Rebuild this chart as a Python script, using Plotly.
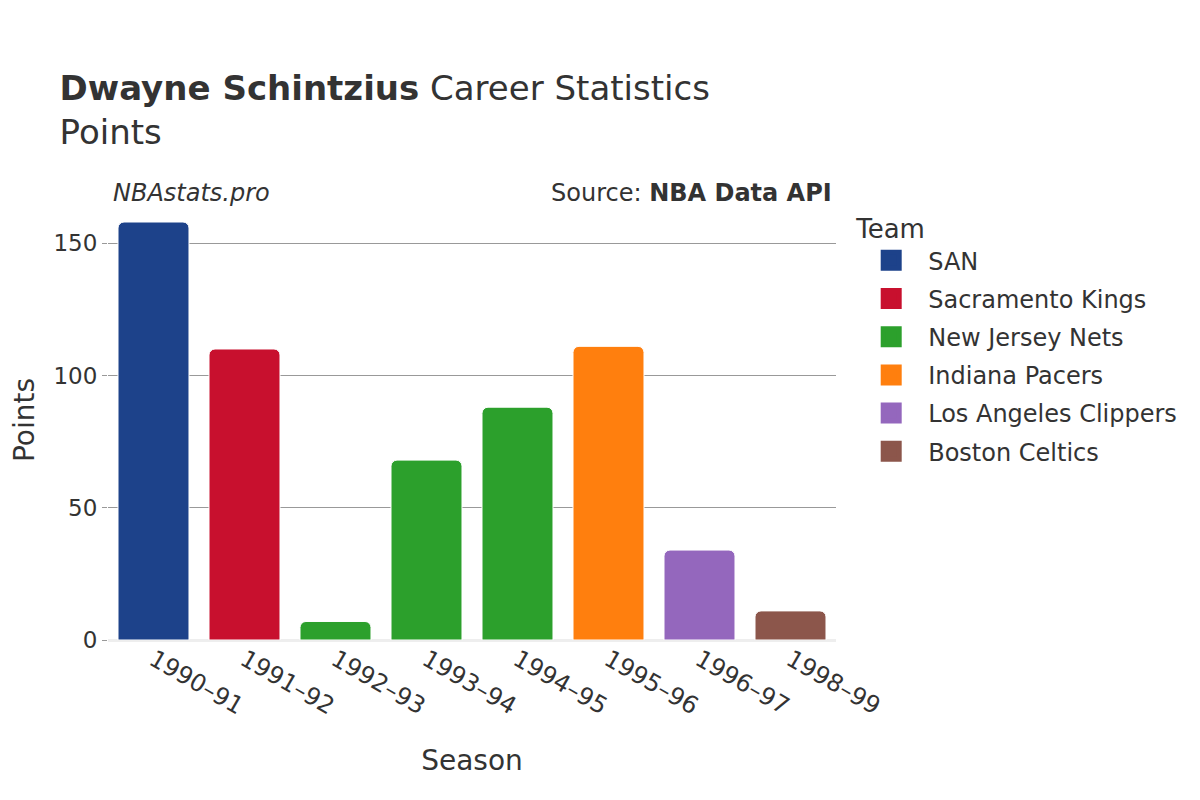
import plotly.graph_objects as go

# career data, one row per season
seasons = ["1990–91", "1991–92", "1992–93", "1993–94", "1994–95", "1995–96", "1996–97", "1998–99"]
teams = ["SAN", "Sacramento Kings", "New Jersey Nets", "New Jersey Nets", "New Jersey Nets",
         "Indiana Pacers", "Los Angeles Clippers", "Boston Celtics"]
points = [158, 110, 7, 68, 88, 111, 34, 11]

team_order = ["SAN", "Sacramento Kings", "New Jersey Nets", "Indiana Pacers",
              "Los Angeles Clippers", "Boston Celtics"]
team_colors = ["#1d428a", "#c8102e", "#2ca02c", "#ff7f0e", "#9467bd", "#8c564b"]

font = "DejaVu Sans"
fig = go.Figure()
for team, color in zip(team_order, team_colors):
    xs = [s for s, t in zip(seasons, teams) if t == team]
    ys = [p for p, t in zip(points, teams) if t == team]
    fig.add_trace(go.Bar(x=xs, y=ys, name=team, legendgroup=team, showlegend=False,
                         marker=dict(color=color, cornerradius=6,
                                     line=dict(color="white", width=1))))
    # legend-only entry so the swatch is a bigger square
    fig.add_trace(go.Scatter(x=[None], y=[None], name=team, legendgroup=team,
                             mode="markers",
                             marker=dict(symbol="square", size=16, color=color,
                                         line=dict(color=color, width=5))))

fig.update_layout(
    width=1200, height=800,
    barmode="relative", bargap=0.22,
    plot_bgcolor="white", paper_bgcolor="white",
    font=dict(family=font, color="#333333", size=22),
    margin=dict(l=100, r=372, t=192, b=168),
    title=dict(text="<b>Dwayne Schintzius</b> Career Statistics<br>Points",
               x=0.043, xanchor="left", y=0.885, yanchor="top",
               font=dict(size=34, family=font, color="#333333")),
    legend=dict(title=dict(text="Team", font=dict(size=26)),
                x=1.025, xanchor="left", y=0.99, yanchor="top",
                font=dict(size=24), itemwidth=64, tracegroupgap=4),
    annotations=[
        dict(text="<i>NBAstats.pro</i>", xref="paper", yref="paper", x=0, y=1.0,
             xanchor="left", yanchor="bottom", showarrow=False, xshift=3, yshift=-9,
             font=dict(size=24)),
        dict(text="Source: <b>NBA Data API</b>", xref="paper", yref="paper", x=1, y=1.0,
             xanchor="right", yanchor="bottom", showarrow=False, xshift=-2, yshift=-9,
             font=dict(size=24)),
    ],
)
fig.update_xaxes(title=dict(text="Season", font=dict(size=28), standoff=30), tickangle=30,
                 categoryorder="array", categoryarray=seasons,
                 tickfont=dict(size=24), automargin=False)
fig.update_yaxes(title=dict(text="Points", font=dict(size=28), standoff=41),
                 gridcolor="#999999", zerolinecolor="#eeeeee", zerolinewidth=3,
                 ticks="outside", ticklen=5, tickcolor="#999999",
                 tickfont=dict(size=23), tickvals=[0, 50, 100, 150], automargin=False)

fig.write_html("out.html")
